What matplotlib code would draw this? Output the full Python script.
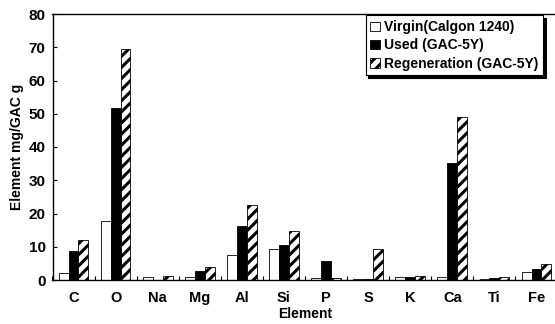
import matplotlib
matplotlib.use("Agg")
import matplotlib.pyplot as plt
import numpy as np
from matplotlib.patches import Patch

plt.rcParams["font.family"] = ["Liberation Sans", "DejaVu Sans"]
plt.rcParams["font.weight"] = "bold"
plt.rcParams["axes.labelweight"] = "bold"
plt.rcParams["hatch.linewidth"] = 2.2

elements = ["C", "O", "Na", "Mg", "Al", "Si", "P", "S", "K", "Ca", "Ti", "Fe"]
virgin = [2.0, 17.7, 0.8, 0.8, 7.4, 9.3, 0.5, 0.2, 0.9, 0.9, 0.4, 2.4]
used = [8.6, 51.7, 0.1, 2.6, 16.1, 10.5, 5.8, 0.4, 0.9, 35.2, 0.6, 3.2]
regen = [11.9, 69.5, 1.2, 3.8, 22.7, 14.6, 0.7, 9.3, 1.1, 48.9, 0.8, 4.8]

labels = ["Virgin(Calgon 1240)", "Used (GAC-5Y)", "Regeneration (GAC-5Y)"]

fig = plt.figure(figsize=(5.55, 3.24), dpi=100)
ax = fig.add_axes([52.5 / 555, 44 / 324, 505 / 555, 266 / 324])

x = np.arange(len(elements))
w = 0.235
ax.bar(x - w, virgin, w, facecolor="white", edgecolor="black", linewidth=0.6)
ax.bar(x, used, w, facecolor="black", edgecolor="black", linewidth=0.6)
ax.bar(x + w, regen, w, facecolor="white", edgecolor="black", linewidth=0.6, hatch="///")

ax.set_xlim(-0.5, len(elements) - 0.5)
ax.set_ylim(0, 80)
ax.set_yticks(range(0, 81, 10))
ax.set_xticks(x)
ax.set_xticklabels(elements)
ax.set_xticks(np.arange(-0.5, len(elements)), minor=True)
ax.tick_params(axis="x", which="major", length=0, pad=8, labelsize=10.5)
ax.tick_params(axis="x", which="minor", direction="in", length=3, width=0.8)
ax.tick_params(axis="y", direction="in", length=3, width=0.8, labelsize=11, pad=5)
for s in ax.spines.values():
    s.set_linewidth(1.0)

ax.set_xlabel("Element", fontsize=10, labelpad=1)
ax.set_ylabel("Element mg/GAC g", fontsize=10, labelpad=3)

handles = [
    Patch(facecolor="white", edgecolor="black", linewidth=0.6, label=labels[0]),
    Patch(facecolor="black", edgecolor="black", linewidth=0.6, label=labels[1]),
    Patch(facecolor="white", edgecolor="black", linewidth=0.6, hatch="///", label=labels[2]),
]
leg = ax.legend(handles=handles, loc="upper right", bbox_to_anchor=(0.975, 1.0),
                fontsize=10, frameon=True, fancybox=False, shadow={"color": "black", "alpha": 1},
                handlelength=0.7, handleheight=0.7, handletextpad=0.3,
                labelspacing=0.3, borderpad=0.35, borderaxespad=0.1)
leg.get_frame().set_edgecolor("black")
leg.get_frame().set_linewidth(0.8)

fig.savefig("out.png", dpi=100)
